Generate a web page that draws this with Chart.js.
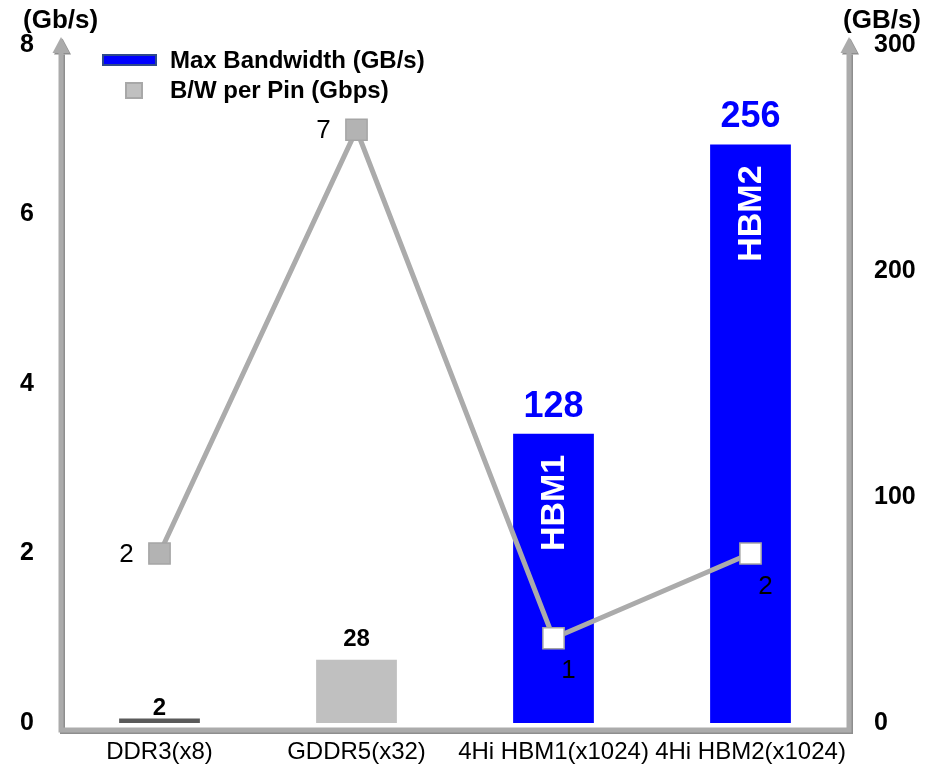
<!DOCTYPE html>
<html>
<head>
<meta charset="utf-8">
<title>Memory bandwidth: DDR3, GDDR5, HBM</title>
<script src="https://cdn.jsdelivr.net/npm/chart.js@4/dist/chart.umd.min.js"></script>
<style>
  html, body { margin: 0; padding: 0; background: #ffffff; }
  #wrap { width: 937px; height: 767px; }
</style>
</head>
<body>
<div id="wrap"><canvas id="chart" width="937" height="767"></canvas></div>
<script>
// Memory types on the category axis
const categories = ['DDR3(x8)', 'GDDR5(x32)', '4Hi HBM1(x1024)', '4Hi HBM2(x1024)'];
// Maximum bandwidth per device, GB/s (right axis, bars)
const maxBandwidth = [2, 28, 128, 256];
// Data rate per pin, Gbps (left axis, line)
const perPinRate = [2, 7, 1, 2];
// Names written inside the bars
const barNames = ['', '', 'HBM1', 'HBM2'];
// Axis tick values
const leftTicks = [0, 2, 4, 6, 8];
const rightTicks = [0, 100, 200, 300];

const FONT = "'Liberation Sans', Arial, Helvetica, sans-serif";
const AXIS_GREY = '#ABABAB';
const AXIS_SHADOW = '#8E8E8E';

const barColors = ['#5A5A5A', '#C0C0C0', '#0000FF', '#0000FF'];
const valueColors = ['#000000', '#000000', '#0000FF', '#0000FF'];
const pointFill = ['#B3B3B3', '#B3B3B3', '#FFFFFF', '#FFFFFF'];

// Arrow-headed axes with a soft shadow
const axesPlugin = {
  id: 'arrowAxes',
  beforeDatasetsDraw(chart) {
    const { ctx, chartArea: a } = chart;
    const base = a.bottom + 7;
    const xl = a.left, xr = a.right;
    const arrowBase = a.top + 8, arrowTip = a.top - 8;
    ctx.save();
    const draw = (dx, dy, color) => {
      ctx.strokeStyle = color;
      ctx.fillStyle = color;
      ctx.lineWidth = 5;
      ctx.lineCap = 'butt';
      ctx.beginPath();
      ctx.moveTo(xl + dx, arrowBase + dy);
      ctx.lineTo(xl + dx, base + dy);
      ctx.lineTo(xr + dx, base + dy);
      ctx.lineTo(xr + dx, arrowBase + dy);
      ctx.stroke();
      [xl, xr].forEach(x => {
        ctx.beginPath();
        ctx.moveTo(x + dx, arrowTip + dy);
        ctx.lineTo(x + dx + 8.5, arrowBase + dy);
        ctx.lineTo(x + dx - 8.5, arrowBase + dy);
        ctx.closePath();
        ctx.fill();
      });
    };
    draw(1.5, 1.5, AXIS_SHADOW);
    draw(0, 0, AXIS_GREY);
    ctx.restore();
  }
};

// Value labels, bar names, axis units and legend
const labelPlugin = {
  id: 'labels',
  afterDatasetsDraw(chart) {
    const { ctx, chartArea } = chart;
    const barMeta = chart.getDatasetMeta(1);
    ctx.save();

    // bar values above each bar
    barMeta.data.forEach((bar, i) => {
      const big = i >= 2;
      const thin = chartArea.bottom - bar.y < 10;
      ctx.font = (big ? 'bold 36px ' : 'bold 24px ') + FONT;
      ctx.fillStyle = valueColors[i];
      ctx.textAlign = 'center';
      ctx.textBaseline = 'alphabetic';
      const gap = big ? 17 : (thin ? 3 : 14);
      ctx.fillText(String(maxBandwidth[i]), bar.x, bar.y - gap);
    });

    // names written vertically inside the tall bars
    barMeta.data.forEach((bar, i) => {
      if (!barNames[i]) return;
      ctx.save();
      ctx.translate(bar.x, bar.y + 21);
      ctx.rotate(-Math.PI / 2);
      ctx.font = 'bold 34px ' + FONT;
      ctx.fillStyle = '#FFFFFF';
      ctx.textAlign = 'right';
      ctx.textBaseline = 'middle';
      ctx.fillText(barNames[i], 0, 1);
      ctx.restore();
    });
    ctx.restore();
  },
  afterDraw(chart) {
    const { ctx } = chart;
    const lineMeta = chart.getDatasetMeta(0);
    ctx.save();

    // per-pin values next to the markers
    ctx.font = '26px ' + FONT;
    ctx.fillStyle = '#000000';
    ctx.textAlign = 'center';
    ctx.textBaseline = 'middle';
    lineMeta.data.forEach((pt, i) => {
      const onBar = maxBandwidth[i] > 100;
      const x = onBar ? pt.x + 15 : pt.x - 33;
      const y = onBar ? pt.y + 33 : pt.y + 1;
      ctx.fillText(String(perPinRate[i]), x, y);
    });

    // axis units
    ctx.font = 'bold 26px ' + FONT;
    ctx.textAlign = 'left';
    ctx.textBaseline = 'middle';
    ctx.fillText('(Gb/s)', 23, 21);
    ctx.fillText('(GB/s)', 843, 21);

    // legend
    ctx.fillStyle = '#0000FF';
    ctx.strokeStyle = '#2E4A8C';
    ctx.lineWidth = 2;
    ctx.fillRect(103, 55, 53, 10);
    ctx.strokeRect(103, 55, 53, 10);
    ctx.fillStyle = '#C0C0C0';
    ctx.strokeStyle = '#A8A8A8';
    ctx.lineWidth = 2;
    ctx.fillRect(126, 83, 16, 15);
    ctx.strokeRect(126, 83, 16, 15);
    ctx.fillStyle = '#000000';
    ctx.font = 'bold 24px ' + FONT;
    ctx.textAlign = 'left';
    ctx.textBaseline = 'middle';
    ctx.fillText('Max Bandwidth (GB/s)', 170, 61);
    ctx.fillText('B/W per Pin (Gbps)', 170, 91);
    ctx.restore();
  }
};

new Chart(document.getElementById('chart'), {
  data: {
    labels: categories,
    datasets: [
      {
        type: 'line',
        label: 'B/W per Pin (Gbps)',
        data: perPinRate,
        yAxisID: 'y',
        order: 0,
        borderColor: AXIS_GREY,
        borderWidth: 5,
        tension: 0,
        pointStyle: 'rect',
        pointRadius: 15,
        pointHoverRadius: 15,
        pointBackgroundColor: pointFill,
        pointBorderColor: '#A5A5A5',
        pointBorderWidth: 1.5
      },
      {
        type: 'bar',
        label: 'Max Bandwidth (GB/s)',
        data: maxBandwidth,
        yAxisID: 'y1',
        order: 1,
        backgroundColor: barColors,
        borderWidth: 0,
        categoryPercentage: 1,
        barPercentage: 0.41
      }
    ]
  },
  options: {
    responsive: false,
    animation: false,
    devicePixelRatio: 1,
    layout: { padding: { top: 45, left: 0, right: 0, bottom: 0 } },
    plugins: {
      legend: { display: false },
      tooltip: { enabled: false }
    },
    events: [],
    scales: {
      x: {
        grid: { display: false, drawTicks: false },
        border: { display: false },
        ticks: {
          color: '#000000',
          font: { family: FONT, size: 24 },
          padding: 15,
          maxRotation: 0,
          autoSkip: false
        },
        afterFit(s) { s.height = 44; }
      },
      y: {
        position: 'left',
        min: 0,
        max: 8,
        grid: { display: false, drawTicks: false },
        border: { display: false },
        afterBuildTicks(s) { s.ticks = leftTicks.map(v => ({ value: v })); },
        ticks: {
          color: '#000000',
          font: { family: FONT, size: 25, weight: 'bold' },
          padding: 27
        },
        afterFit(s) { s.width = 61; }
      },
      y1: {
        position: 'right',
        min: 0,
        max: 300,
        grid: { display: false, drawTicks: false },
        border: { display: false },
        afterBuildTicks(s) { s.ticks = rightTicks.map(v => ({ value: v })); },
        ticks: {
          color: '#000000',
          font: { family: FONT, size: 25, weight: 'bold' },
          padding: 25
        },
        afterFit(s) { s.width = 88; }
      }
    }
  },
  plugins: [axesPlugin, labelPlugin]
});
</script>
</body>
</html>
